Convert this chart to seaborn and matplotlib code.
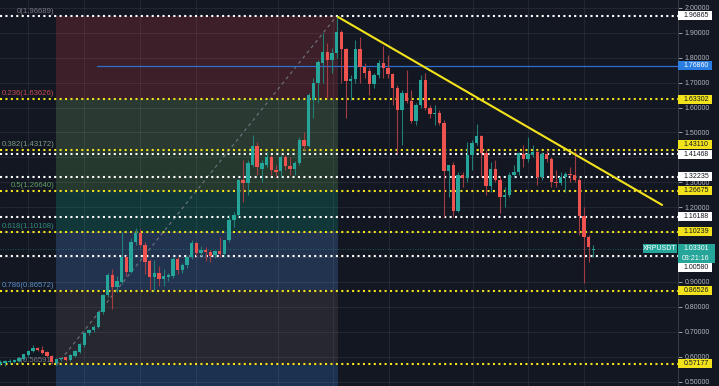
import matplotlib
matplotlib.use('Agg')
import matplotlib.pyplot as plt
import matplotlib.transforms as mtransforms
from matplotlib.patches import Rectangle
import seaborn as sns
import numpy as np
import pandas as pd

# ---- candle data (XRPUSDT, daily) ----
opens = [.572, .574, .578, .580, .583, .592, .606, .622, .634, .626, .617, .604, .575, .589, .597, .586,
         .604, .620, .645, .693, .706, .720, .778, .846, .929, .878, .900, 1.001, .941, 1.062, 1.098, 1.050,
         .983, .920, .935, .910, .918, .925, .990, .947, .966, 1.000, 1.055, 1.018, 1.030, 1.022, 1.007, 1.025,
         1.012, 1.068, 1.148, 1.167, 1.309, 1.296, 1.370, 1.444, 1.355, 1.370, 1.400, 1.350, 1.344, 1.400,
         1.365, 1.355, 1.378, 1.470, 1.445, 1.630, 1.700, 1.780, 1.825, 1.790, 1.820, 1.902, 1.834, 1.705,
         1.715, 1.834, 1.764, 1.745, 1.694, 1.730, 1.780, 1.757, 1.734, 1.680, 1.590, 1.657, 1.628, 1.545,
         1.612, 1.710, 1.600, 1.575, 1.580, 1.540, 1.345, 1.370, 1.185, 1.330, 1.317, 1.410, 1.457, 1.487,
         1.417, 1.286, 1.353, 1.308, 1.242, 1.250, 1.330, 1.343, 1.414, 1.395, 1.410, 1.420, 1.320, 1.413,
         1.392, 1.302, 1.298, 1.320, 1.334, 1.328, 1.310, 1.163, 1.080, 1.028]
highs = [.585, .588, .590, .592, .600, .612, .628, .645, .640, .642, .622, .608, .596, .596, .600, .610,
         .626, .654, .698, .712, .725, .785, .850, .935, .950, .925, 1.100, 1.010, 1.075, 1.118, 1.112, 1.060,
         .990, .987, .965, .950, .935, 1.000, 1.000, .975, 1.005, 1.070, 1.060, 1.045, 1.040, 1.030, 1.030, 1.080,
         1.070, 1.170, 1.180, 1.315, 1.390, 1.390, 1.490, 1.460, 1.390, 1.420, 1.410, 1.370, 1.410, 1.410,
         1.400, 1.385, 1.480, 1.500, 1.660, 1.720, 1.790, 1.900, 1.860, 1.840, 1.966, 1.910, 1.840, 1.730,
         1.870, 1.885, 1.780, 1.760, 1.740, 1.790, 1.846, 1.810, 1.740, 1.690, 1.670, 1.750, 1.670, 1.620,
         1.730, 1.740, 1.610, 1.610, 1.590, 1.550, 1.370, 1.380, 1.340, 1.340, 1.460, 1.470, 1.535, 1.490,
         1.430, 1.380, 1.390, 1.320, 1.280, 1.340, 1.370, 1.420, 1.450, 1.480, 1.450, 1.430, 1.420, 1.430,
         1.400, 1.350, 1.340, 1.340, 1.360, 1.426, 1.320, 1.200, 1.090, 1.050]
lows = [.565, .562, .570, .575, .578, .588, .600, .618, .622, .612, .598, .572, .568, .583, .582, .583,
        .600, .615, .640, .688, .700, .715, .770, .840, .790, .860, .890, .925, .935, 1.050, 1.040, .930,
        .866, .862, .885, .885, .905, .915, .930, .935, .955, .990, 1.005, 1.005, .985, .980, .995, 1.000,
        1.000, 1.060, 1.120, 1.160, 1.220, 1.250, 1.360, 1.330, 1.300, 1.360, 1.330, 1.320, 1.320, 1.350,
        1.330, 1.330, 1.370, 1.430, 1.440, 1.560, 1.620, 1.700, 1.640, 1.740, 1.800, 1.700, 1.560, 1.630,
        1.700, 1.700, 1.720, 1.650, 1.680, 1.720, 1.720, 1.720, 1.610, 1.416, 1.450, 1.620, 1.540, 1.530,
        1.600, 1.590, 1.560, 1.530, 1.530, 1.162, 1.240, 1.162, 1.180, 1.280, 1.300, 1.350, 1.450, 1.320,
        1.250, 1.260, 1.300, 1.177, 1.200, 1.240, 1.320, 1.330, 1.360, 1.380, 1.400, 1.290, 1.310, 1.380,
        1.280, 1.280, 1.290, 1.260, 1.300, 1.300, 1.090, .896, .980, 1.000]
closes = [.578, .581, .584, .586, .595, .609, .623, .634, .626, .616, .602, .577, .592, .592, .586, .607,
          .622, .650, .693, .707, .720, .780, .846, .929, .878, .905, 1.001, .941, 1.062, 1.098, 1.048, .980,
          .920, .935, .913, .922, .928, .990, .947, .966, 1.000, 1.055, 1.018, 1.030, 1.022, 1.006, 1.025, 1.012,
          1.068, 1.148, 1.170, 1.309, 1.296, 1.376, 1.446, 1.360, 1.376, 1.400, 1.350, 1.340, 1.400, 1.365,
          1.355, 1.378, 1.470, 1.445, 1.650, 1.700, 1.783, 1.825, 1.790, 1.820, 1.902, 1.834, 1.705, 1.715,
          1.834, 1.764, 1.740, 1.694, 1.730, 1.780, 1.757, 1.734, 1.680, 1.590, 1.657, 1.628, 1.545, 1.612,
          1.710, 1.600, 1.575, 1.580, 1.540, 1.345, 1.370, 1.185, 1.330, 1.317, 1.410, 1.457, 1.487, 1.417,
          1.286, 1.353, 1.308, 1.241, 1.250, 1.330, 1.343, 1.416, 1.395, 1.412, 1.420, 1.320, 1.413, 1.392,
          1.302, 1.298, 1.320, 1.334, 1.328, 1.310, 1.163, 1.080, 1.040, 1.033]

# ---- fibonacci retracement ----
fib_levels = [0, 0.236, 0.382, 0.5, 0.618, 0.786, 1]
fib_high = 1.96689
fib_low = 0.56591
fib_start, fib_end = 11.93, 72.3          # candle index of the swing low / high
fib_text_colors = ['#787b86', '#c94b52', '#7c9c86', '#5f9c62', '#2f8d7c', '#5a90cc', '#787b86']
fib_zone_colors = ['#3c1f28', '#2a3a33', '#26392f', '#113739', '#223350', '#26272f']
below_zone_color = '#1b3150'

# ---- horizontal levels ----
white_levels = [1.96865, 1.41468, 1.32235, 1.16188, 1.00580]
yellow_levels = [1.63302, 1.43110, 1.26675, 1.10239, 0.86526, 0.57177]
blue_level = 1.76860
last_price = 1.03301
countdown = '03:21:16'
symbol = 'XRPUSDT'

# ---- trend line (yellow) ----
trend_x = [72.3, 141.7]
trend_y = [1.964, 1.209]

# y ticks on the right scale (labels under price tags are hidden, as on the chart)
yticks = np.round(np.arange(0.5, 2.001, 0.1), 2)
hidden_ticks = [1.0, 1.1, 1.4]
grid_x = [5.93, 17.92, 29.9, 41.9, 59.5, 71.2, 83.2, 101.2, 113.0, 125.0]

BG = '#131722'
UP, DOWN = '#26a69a', '#ef5350'
UP_WICK, DOWN_WICK = '#1f7f75', '#a33c42'
YELLOW = '#f2e21c'

sns.set_theme(style='dark', rc={'axes.facecolor': BG, 'figure.facecolor': BG})
plt.rcParams['font.family'] = ['Liberation Sans', 'DejaVu Sans']

df = pd.DataFrame({'open': opens, 'high': highs, 'low': lows, 'close': closes})
df['i'] = np.arange(len(df))
df['up'] = df['close'] >= df['open']

fig = plt.figure(figsize=(7.19, 3.86), dpi=100)
W, H = 719, 386
AXW = 678
ax = fig.add_axes([0, 0, AXW / W, 1])
ax.set_facecolor(BG)
ax.set_xlim(-0.064, 145.1)
ax.set_ylim(0.482, 2.032)

# fib zones
fib_prices = [fib_high - lv * (fib_high - fib_low) for lv in fib_levels]
for k in range(len(fib_prices) - 1):
    ax.fill_between([fib_start, fib_end], fib_prices[k + 1], fib_prices[k],
                    color=fib_zone_colors[k], lw=0, zorder=0.5)
ax.fill_between([fib_start, fib_end], 0.4, fib_prices[-1], color=below_zone_color, lw=0, zorder=0.5)

# grid
for yv in yticks:
    ax.axhline(yv, color='white', alpha=0.065, lw=0.8, zorder=0.8)
for xv in grid_x:
    ax.axvline(xv, color='white', alpha=0.065, lw=0.8, zorder=0.8)

# fib labels
for lv, pr, col in zip(fib_levels, fib_prices, fib_text_colors):
    ax.annotate(f'{lv:g}({pr:.5f})', xy=(fib_start - 0.4, pr), xytext=(0, 1.5),
                textcoords='offset pixels', ha='right', va='bottom', fontsize=5.6, color=col, zorder=1)

# diagonal of the fib tool
sns.lineplot(x=[fib_start + 0.1, fib_end - 0.3], y=[fib_low, fib_high], ax=ax, color='#6f7380',
             lw=0.8, ls=(0, (3, 3)), zorder=1)

# horizontal levels
for p in white_levels:
    ax.axhline(p, color='white', lw=1.5, ls=(0, (1, 1.6)), zorder=2)
for p in yellow_levels:
    ax.axhline(p, color=YELLOW, lw=1.5, ls=(0, (1, 1.6)), zorder=2)
ax.plot([20.7, 146], [blue_level, blue_level], color='#2f6fd0', lw=0.9, zorder=2)
ax.axhline(last_price, color=UP, lw=0.6, ls=(0, (1, 2)), alpha=0.6, zorder=2)

# candles
wick_cols = np.where(df['up'], UP_WICK, DOWN_WICK)
body_cols = np.where(df['up'], UP, DOWN)
ax.vlines(df['i'], df['low'], df['high'], colors=wick_cols, lw=0.8, zorder=3)
body_h = np.maximum((df['close'] - df['open']).abs(), 0.004)
ax.bar(df['i'], body_h, bottom=np.minimum(df['open'], df['close']), width=0.72,
       color=body_cols, lw=0, zorder=4)

# trend line
sns.lineplot(x=trend_x, y=trend_y, ax=ax, color=YELLOW, lw=1.5, zorder=5)

# right axis
ax.yaxis.tick_right()
ax.set_yticks(yticks)
ax.set_yticklabels(['' if v in hidden_ticks else f'{v:.5f}' for v in yticks])
ax.tick_params(axis='y', colors='#b2b5be', labelsize=5, length=3, width=0.6, pad=2, right=True)
ax.set_xticks([])
for side in ['top', 'left', 'bottom']:
    ax.spines[side].set_visible(False)
ax.spines['right'].set_color('#363a45')
ax.spines['right'].set_linewidth(0.8)

blend = mtransforms.blended_transform_factory(ax.transAxes, ax.transData)
px = 1.0 / 249  # price per pixel


def price_tag(price, text, fc, tc, dy=0.0, h=9):
    ax.add_patch(Rectangle((1.0, price + dy * px - h / 2 * px), 34 / AXW, h * px, transform=blend,
                           fc=fc, ec='none', clip_on=False, zorder=10))
    ax.text(1.0 + 18 / AXW, price + dy * px, text, transform=blend, ha='center', va='center',
            fontsize=5, color=tc, zorder=11, clip_on=False)


for p in white_levels:
    dy = {1.41468: -1.0, 1.00580: -11.5}.get(p, 0)
    price_tag(p, f'{p:.5f}', 'white', '#131722', dy)
for p in yellow_levels:
    dy = {1.43110: 5.2}.get(p, 0)
    price_tag(p, f'{p:.5f}', YELLOW, '#131722', dy)
price_tag(blue_level, f'{blue_level:.5f}', '#2a7de1', 'white')

# last price: two-line teal tag and symbol tag
ax.add_patch(Rectangle((1.0, last_price - 14.5 * px), 37 / AXW, 19 * px, transform=blend,
                       fc=UP, ec='none', clip_on=False, zorder=12))
ax.text(1.0 + 18 / AXW, last_price, f'{last_price:.5f}', transform=blend, ha='center', va='center',
        fontsize=5, color='white', zorder=13, clip_on=False)
ax.text(1.0 + 18 / AXW, last_price - 9.5 * px, countdown, transform=blend, ha='center', va='center',
        fontsize=5, color='white', zorder=13, clip_on=False)
ax.add_patch(Rectangle((1.0 - 35 / AXW, last_price - 4.5 * px), 34 / AXW, 9 * px, transform=blend,
                       fc=UP, ec='none', clip_on=False, zorder=12))
ax.text(1.0 - 18 / AXW, last_price, symbol, transform=blend, ha='center', va='center',
        fontsize=5, color='white', zorder=13, clip_on=False)

fig.savefig('out.png', dpi=100, facecolor=BG)
